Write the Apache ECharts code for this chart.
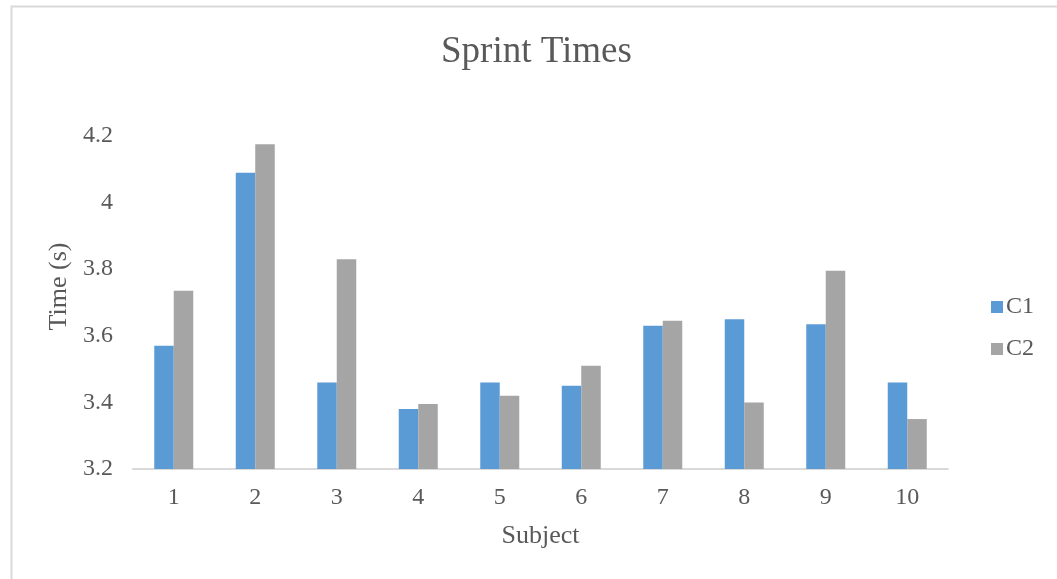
<!DOCTYPE html>
<html>
<head>
<meta charset="utf-8">
<title>Sprint Times</title>
<script src="https://cdn.jsdelivr.net/npm/echarts@6/dist/echarts.min.js"></script>
<style>
  html, body { margin: 0; padding: 0; background: #fff; }
  #main { width: 1057px; height: 579px; }
</style>
</head>
<body>
<div id="main"></div>
<script>
  // data
  const subjects = ['1', '2', '3', '4', '5', '6', '7', '8', '9', '10'];
  const c1 = [3.57, 4.09, 3.46, 3.38, 3.46, 3.45, 3.63, 3.65, 3.635, 3.46];
  const c2 = [3.735, 4.175, 3.83, 3.395, 3.42, 3.51, 3.645, 3.40, 3.795, 3.35];

  const textColor = '#595959';
  const serif = '"Liberation Serif", "Times New Roman", serif';

  const chart = echarts.init(document.getElementById('main'), null, { renderer: 'canvas' });

  chart.setOption({
    animation: false,
    backgroundColor: '#fff',
    textStyle: { fontFamily: serif, color: textColor },
    title: {
      text: 'Sprint Times',
      left: 436,
      top: 29,
      textStyle: { fontFamily: serif, fontSize: 37, fontWeight: 'normal', color: textColor }
    },
    legend: {
      orient: 'vertical',
      left: 991,
      top: 295,
      padding: 0,
      itemWidth: 12,
      itemHeight: 12,
      itemGap: 18,
      icon: 'rect',
      textStyle: { fontFamily: serif, fontSize: 24, color: textColor, padding: [0, 0, 0, -2] },
      data: ['C1', 'C2']
    },
    grid: {
      left: 133,
      right: 109,
      top: 136,
      bottom: 110
    },
    xAxis: {
      type: 'category',
      data: subjects,
      name: 'Subject',
      nameLocation: 'middle',
      nameGap: 54,
      nameTextStyle: { fontFamily: serif, fontSize: 26, color: textColor },
      axisLine: { lineStyle: { color: '#d9d9d9', width: 2 } },
      axisTick: { show: false },
      axisLabel: { fontFamily: serif, fontSize: 24, color: textColor, margin: 17 }
    },
    yAxis: {
      type: 'value',
      min: 3.2,
      max: 4.2,
      interval: 0.2,
      name: 'Time (s)',
      nameLocation: 'middle',
      nameGap: 56,
      // shift the rotated name up a little, as in the original
      nameTextStyle: { fontFamily: serif, fontSize: 26, color: textColor, padding: [0, 0, 0, 32] },
      axisLine: { show: false },
      axisTick: { show: false },
      splitLine: { show: false },
      axisLabel: {
        fontFamily: serif,
        fontSize: 24,
        color: textColor,
        margin: 20,
        formatter: function (v) { return String(+v.toFixed(1)); }
      }
    },
    series: [
      {
        name: 'C1',
        type: 'bar',
        data: c1,
        barWidth: 19.5,
        barGap: '0%',
        itemStyle: { color: '#5B9BD5' }
      },
      {
        name: 'C2',
        type: 'bar',
        data: c2,
        barWidth: 19.5,
        barGap: '0%',
        itemStyle: { color: '#A5A5A5' }
      }
    ],
    graphic: [
      {
        type: 'polyline',
        shape: { points: [[11.5, 579], [11.5, 6.5], [1057, 6.5]] },
        style: { stroke: '#d9d9d9', lineWidth: 2, fill: null }
      }
    ]
  });
</script>
</body>
</html>
